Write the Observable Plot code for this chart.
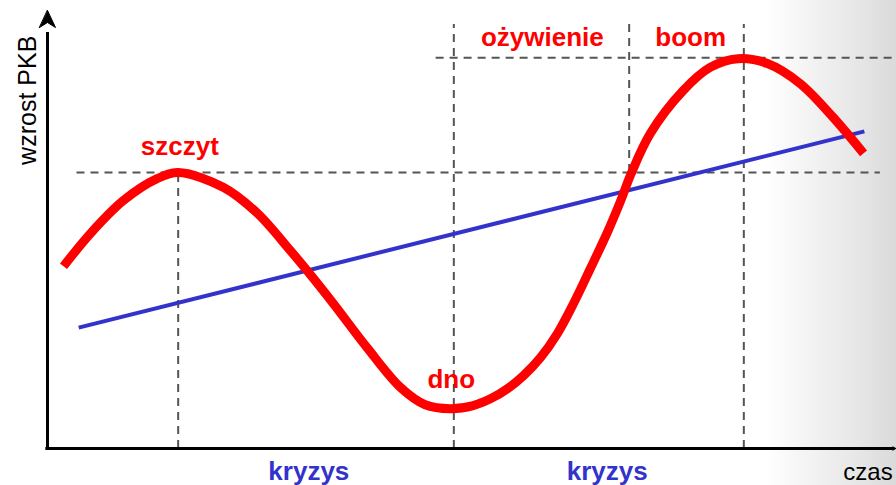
<!DOCTYPE html>
<html>
<head>
<meta charset="utf-8">
<script src="https://cdn.jsdelivr.net/npm/d3@7"></script>
<script src="https://cdn.jsdelivr.net/npm/@observablehq/plot@0.6"></script>
<style>
  html, body { margin: 0; padding: 0; }
  body { width: 896px; height: 485px; overflow: hidden;
         background: linear-gradient(to right, #ffffff 0px, #ffffff 765px, #f3f3f3 810px, #e6e6e6 860px, #dadada 896px); }
</style>
</head>
<body>
<div id="chart"></div>
<script>
// Cycle of GDP growth (schematic): time t (0–100), GDP growth level v (0–100)
const cycleT = [1.9, 5.1, 9.0, 13.0, 15.5, 20.9, 24.9, 28.8, 30.8, 33.9, 38.0, 41.9, 44.8, 47.8, 50.5, 52.6, 54.6, 56.5, 58.5, 60.5, 62.4, 64.4, 66.4, 68.0, 69.2, 71.5, 75.4, 78.6, 81.9, 85.4, 89.3, 93.2, 96.8];
const cycleV = [41.6, 49.1, 56.6, 61.6, 63.0, 59.6, 53.7, 45.2, 40.6, 33.1, 22.8, 13.9, 10.0, 9.1, 9.8, 11.4, 13.7, 16.7, 20.8, 26.3, 33.1, 41.1, 49.3, 56.6, 62.6, 71.9, 81.7, 87.0, 89.0, 87.9, 83.3, 75.6, 67.4];

// Long-run trend
const trendT = [3.7, 96.9];
const trendV = [27.6, 72.4];

// Reference levels
const peakLevel = 63.0;
const boomLevel = 89.2;
const topLevel = 96.8;
const peakT = 15.5, troughT = 48.2, recoveryT = 69.0, boomT = 82.6;

// Phase labels
const phaseNames = ["szczyt", "ożywienie", "boom", "dno"];
const phaseT = [15.7, 58.7, 76.3, 47.9];
const phaseV = [67.1, 91.8, 91.8, 13.9];

const crisisNames = ["kryzys", "kryzys"];
const crisisT = [31.0, 66.4];
const crisisV = [-7.1, -7.1];

const xTitle = "czas";
const yTitle = "wzrost PKB";

const cycle = cycleT.map((t, i) => ({t, v: cycleV[i]}));
const trend = trendT.map((t, i) => ({t, v: trendV[i]}));
const phases = phaseNames.map((name, i) => ({name, t: phaseT[i], v: phaseV[i]}));
const crises = crisisNames.map((name, i) => ({name, t: crisisT[i], v: crisisV[i]}));

const vRules = [
  {t: peakT, v1: 0, v2: peakLevel},
  {t: troughT, v1: 0, v2: topLevel},
  {t: recoveryT, v1: peakLevel, v2: topLevel},
  {t: boomT, v1: 0, v2: topLevel}
];
const hRules = [
  {v: peakLevel, t1: 3.5, t2: 98.8},
  {v: boomLevel, t1: 46.1, t2: 100.5}
];

// filled dart arrowhead, tip at the anchor point, pointing up (fixed pixel size)
const dart = {
  draw(context) {
    context.moveTo(0, 0);
    context.lineTo(8, 17);
    context.lineTo(0, 12);
    context.lineTo(-8, 17);
    context.closePath();
  }
};

const dash = {stroke: "#555", strokeWidth: 2, strokeDasharray: "8,6"};
const font = "Liberation Sans, Arial, sans-serif";

const chart = Plot.plot({
  width: 896,
  height: 485,
  marginLeft: 47,
  marginRight: 6,
  marginTop: 10,
  marginBottom: 37,
  style: {background: "transparent", fontFamily: font},
  x: {domain: [0, 100], axis: null},
  y: {domain: [0, 100], axis: null},
  marks: [
    Plot.ruleX(vRules, {x: "t", y1: "v1", y2: "v2", ...dash}),
    Plot.ruleY(hRules, {y: "v", x1: "t1", x2: "t2", ...dash}),
    Plot.line(trend, {x: "t", y: "v", stroke: "#3333cc", strokeWidth: 4, strokeLinecap: "butt"}),
    Plot.line(cycle, {x: "t", y: "v", stroke: "#ff0000", strokeWidth: 9, curve: "catmull-rom", strokeLinecap: "butt"}),
    // axes
    Plot.ruleX([0], {y1: -0.3, y2: 95, stroke: "black", strokeWidth: 3}),
    Plot.vector([{t: 0, v: 100}], {x: "t", y: "v", length: 17, anchor: "start", shape: dart, fill: "black", stroke: "black", strokeWidth: 1, strokeLinejoin: "miter"}),
    Plot.ruleY([0], {x1: -0.2, x2: 100.5, stroke: "black", strokeWidth: 3}),
    Plot.arrow([{x1: 99.5, y1: 0, x2: 100.6, y2: 0}], {x1: "x1", y1: "y1", x2: "x2", y2: "y2", stroke: "black", strokeWidth: 1.2, headLength: 9, insetStart: 0, insetEnd: 0}),
    // labels
    Plot.text(phases, {x: "t", y: "v", text: "name", fill: "#ff0000", fontSize: 26, fontWeight: "bold", lineAnchor: "bottom", textAnchor: "middle"}),
    Plot.text(crises, {x: "t", y: "v", text: "name", fill: "#3333cc", fontSize: 26, fontWeight: "bold", lineAnchor: "bottom", textAnchor: "middle"}),
    Plot.text([xTitle], {x: 94.4, y: -7.3, text: d => d, fill: "black", fontSize: 24, lineAnchor: "bottom", textAnchor: "start"}),
    Plot.text([yTitle], {x: -1.42, y: 79.5, text: d => d, fill: "black", fontSize: 25, rotate: -90, lineAnchor: "bottom", textAnchor: "middle"})
  ]
});
document.getElementById("chart").appendChild(chart);
</script>
</body>
</html>
